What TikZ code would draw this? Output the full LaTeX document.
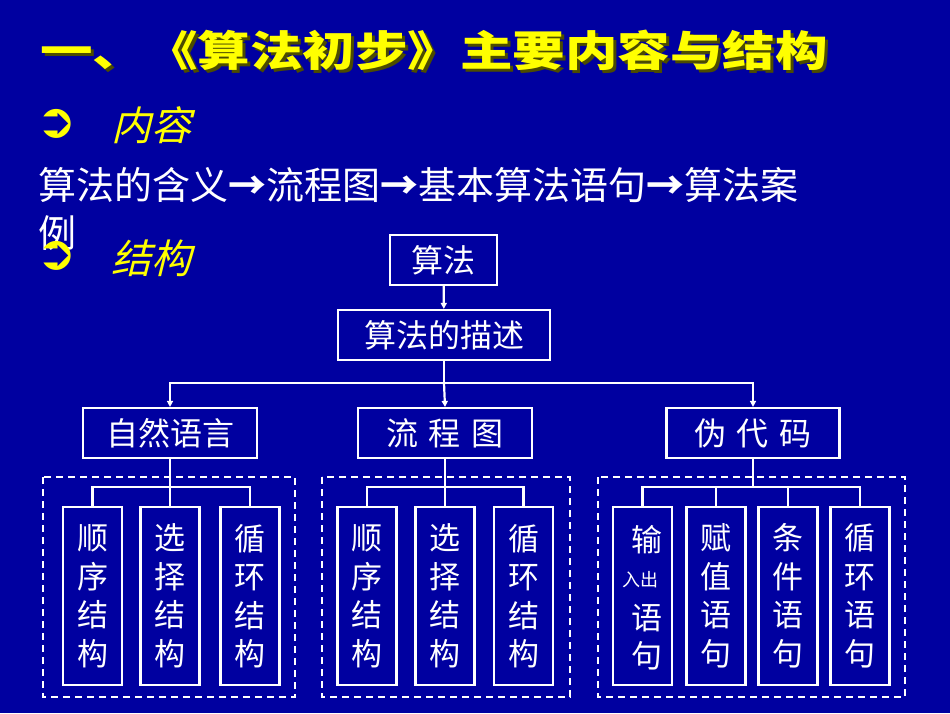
\documentclass[tikz,border=0pt]{standalone}
\usepackage{fontspec}
\newfontfamily\cjk{Noto Sans CJK SC}
\newfontfamily\djv{DejaVu Sans}
\usetikzlibrary{arrows.meta}
\definecolor{bg}{RGB}{0,0,160}
\definecolor{yl}{RGB}{255,255,0}
\begin{document}
\begin{tikzpicture}[x=1pt,y=-1pt,
  box/.style={draw=white,line width=2.2pt,inner sep=0pt,text=white,font=\cjk\fontsize{32}{34}\selectfont},
  leaf/.style={box,minimum width=59pt,minimum height=178pt},
  lt/.style={text=white,font=\cjk\fontsize{31}{38.5}\selectfont,align=center,inner sep=0pt},
  grp/.style={draw=white,line width=1.6pt,dash pattern=on 7pt off 5pt},
  ln/.style={draw=white,line width=2.2pt},
  arr/.style={ln,-{Triangle[length=6pt,width=6pt]}},
  bul/.style={anchor=west,inner sep=0pt,text=yl,font=\djv\bfseries\fontsize{48}{50}\selectfont},
  wt/.style={text=white,font=\cjk\fontsize{38}{40}\selectfont,anchor=west,inner sep=0pt}]
\fill[bg] (0,0) rectangle (950,713);
\useasboundingbox (0,0) rectangle (950,713);
\node[anchor=west,inner sep=0pt,text=black!70!yl,font=\cjk\bfseries\fontsize{42}{44}\selectfont,xscale=1.25] at (43,53) {一、《算法初步》主要内容与结构};
\node[anchor=west,inner sep=0pt,text=yl,font=\cjk\bfseries\fontsize{42}{44}\selectfont,xscale=1.25] (title) at (40,50) {一、《算法初步》主要内容与结构};
\node[bul] (b1) at (36,124) {➲};
\node[anchor=west,inner sep=0pt,text=yl,font=\cjk\fontsize{40}{42}\selectfont,xslant=0.25] (t1) at (115,125) {内容};
\node[wt] (line) at (38,185) {算法的含义\textbf{→}流程图\textbf{→}基本算法语句\textbf{→}算法案};
\node[wt] (li) at (38,233) {例};
\node[bul] (b2) at (36,256) {➲};
\node[anchor=west,inner sep=0pt,text=yl,font=\cjk\fontsize{40}{42}\selectfont,xslant=0.25] (t2) at (115,258) {结构};
\node[box,minimum width=107pt,minimum height=50pt] (a) at (443.5,260) {算法};
\node[box,minimum width=212pt,minimum height=50pt] (d) at (444,335) {算法的描述};
\draw[arr] (a) -- (d);
\node[box,minimum width=174pt,minimum height=50pt] (n1) at (170,433) {自然语言};
\node[box,minimum width=174pt,minimum height=50pt] (n2) at (445,433) {流\,\,程\,\,图};
\node[box,minimum width=173pt,minimum height=50pt] (n3) at (753,433) {伪\,\,代\,\,码};
\coordinate (h) at (444,383);
\draw[ln] (d.south) -- (h);
\draw[arr] (h) -| (n1.north);
\draw[arr] (h) -| (n3.north);
\draw[arr] (h) -- (n2.north);
\draw[grp] (43,477) rectangle (295,697);
\draw[grp] (322,477) rectangle (570,697);
\draw[grp] (598,477) rectangle (905,697);
\node[leaf] (l11) at (92.5,596) {};
\node[leaf] (l12) at (170,596) {};
\node[leaf] (l13) at (250,596) {};
\node[leaf] (l21) at (367,596) {};
\node[leaf] (l22) at (445,596) {};
\node[leaf] (l23) at (523.5,596) {};
\node[leaf] (l31) at (642.5,596) {};
\node[leaf] (l32) at (716,596) {};
\node[leaf] (l33) at (788,596) {};
\node[leaf] (l34) at (860,596) {};
\foreach \i in {1,2,3}{\draw[ln] (n1.south) -- (170,487) -| (l1\i.north);}
\foreach \i in {1,2,3}{\draw[ln] (n2.south) -- (445,487) -| (l2\i.north);}
\foreach \i in {1,2,3,4}{\draw[ln] (n3.south) -- (753,487) -| (l3\i.north);}
\node[lt] at (l11) {顺\\序\\结\\构};
\node[lt] at (l12) {选\\择\\结\\构};
\node[lt] at (l13) {循\\环\\结\\构};
\node[lt] at (l21) {顺\\序\\结\\构};
\node[lt] at (l22) {选\\择\\结\\构};
\node[lt] at (l23) {循\\环\\结\\构};
\node[lt] at (l32) {赋\\值\\语\\句};
\node[lt] at (l33) {条\\件\\语\\句};
\node[lt] at (l34) {循\\环\\语\\句};
\node[lt,anchor=center] at (647,540) {输};
\node[lt,font=\cjk\fontsize{18}{20}\selectfont] at (640,580) {入出};
\node[lt] at (647,618) {语};
\node[lt] at (647,656) {句};
\end{tikzpicture}
\end{document}
